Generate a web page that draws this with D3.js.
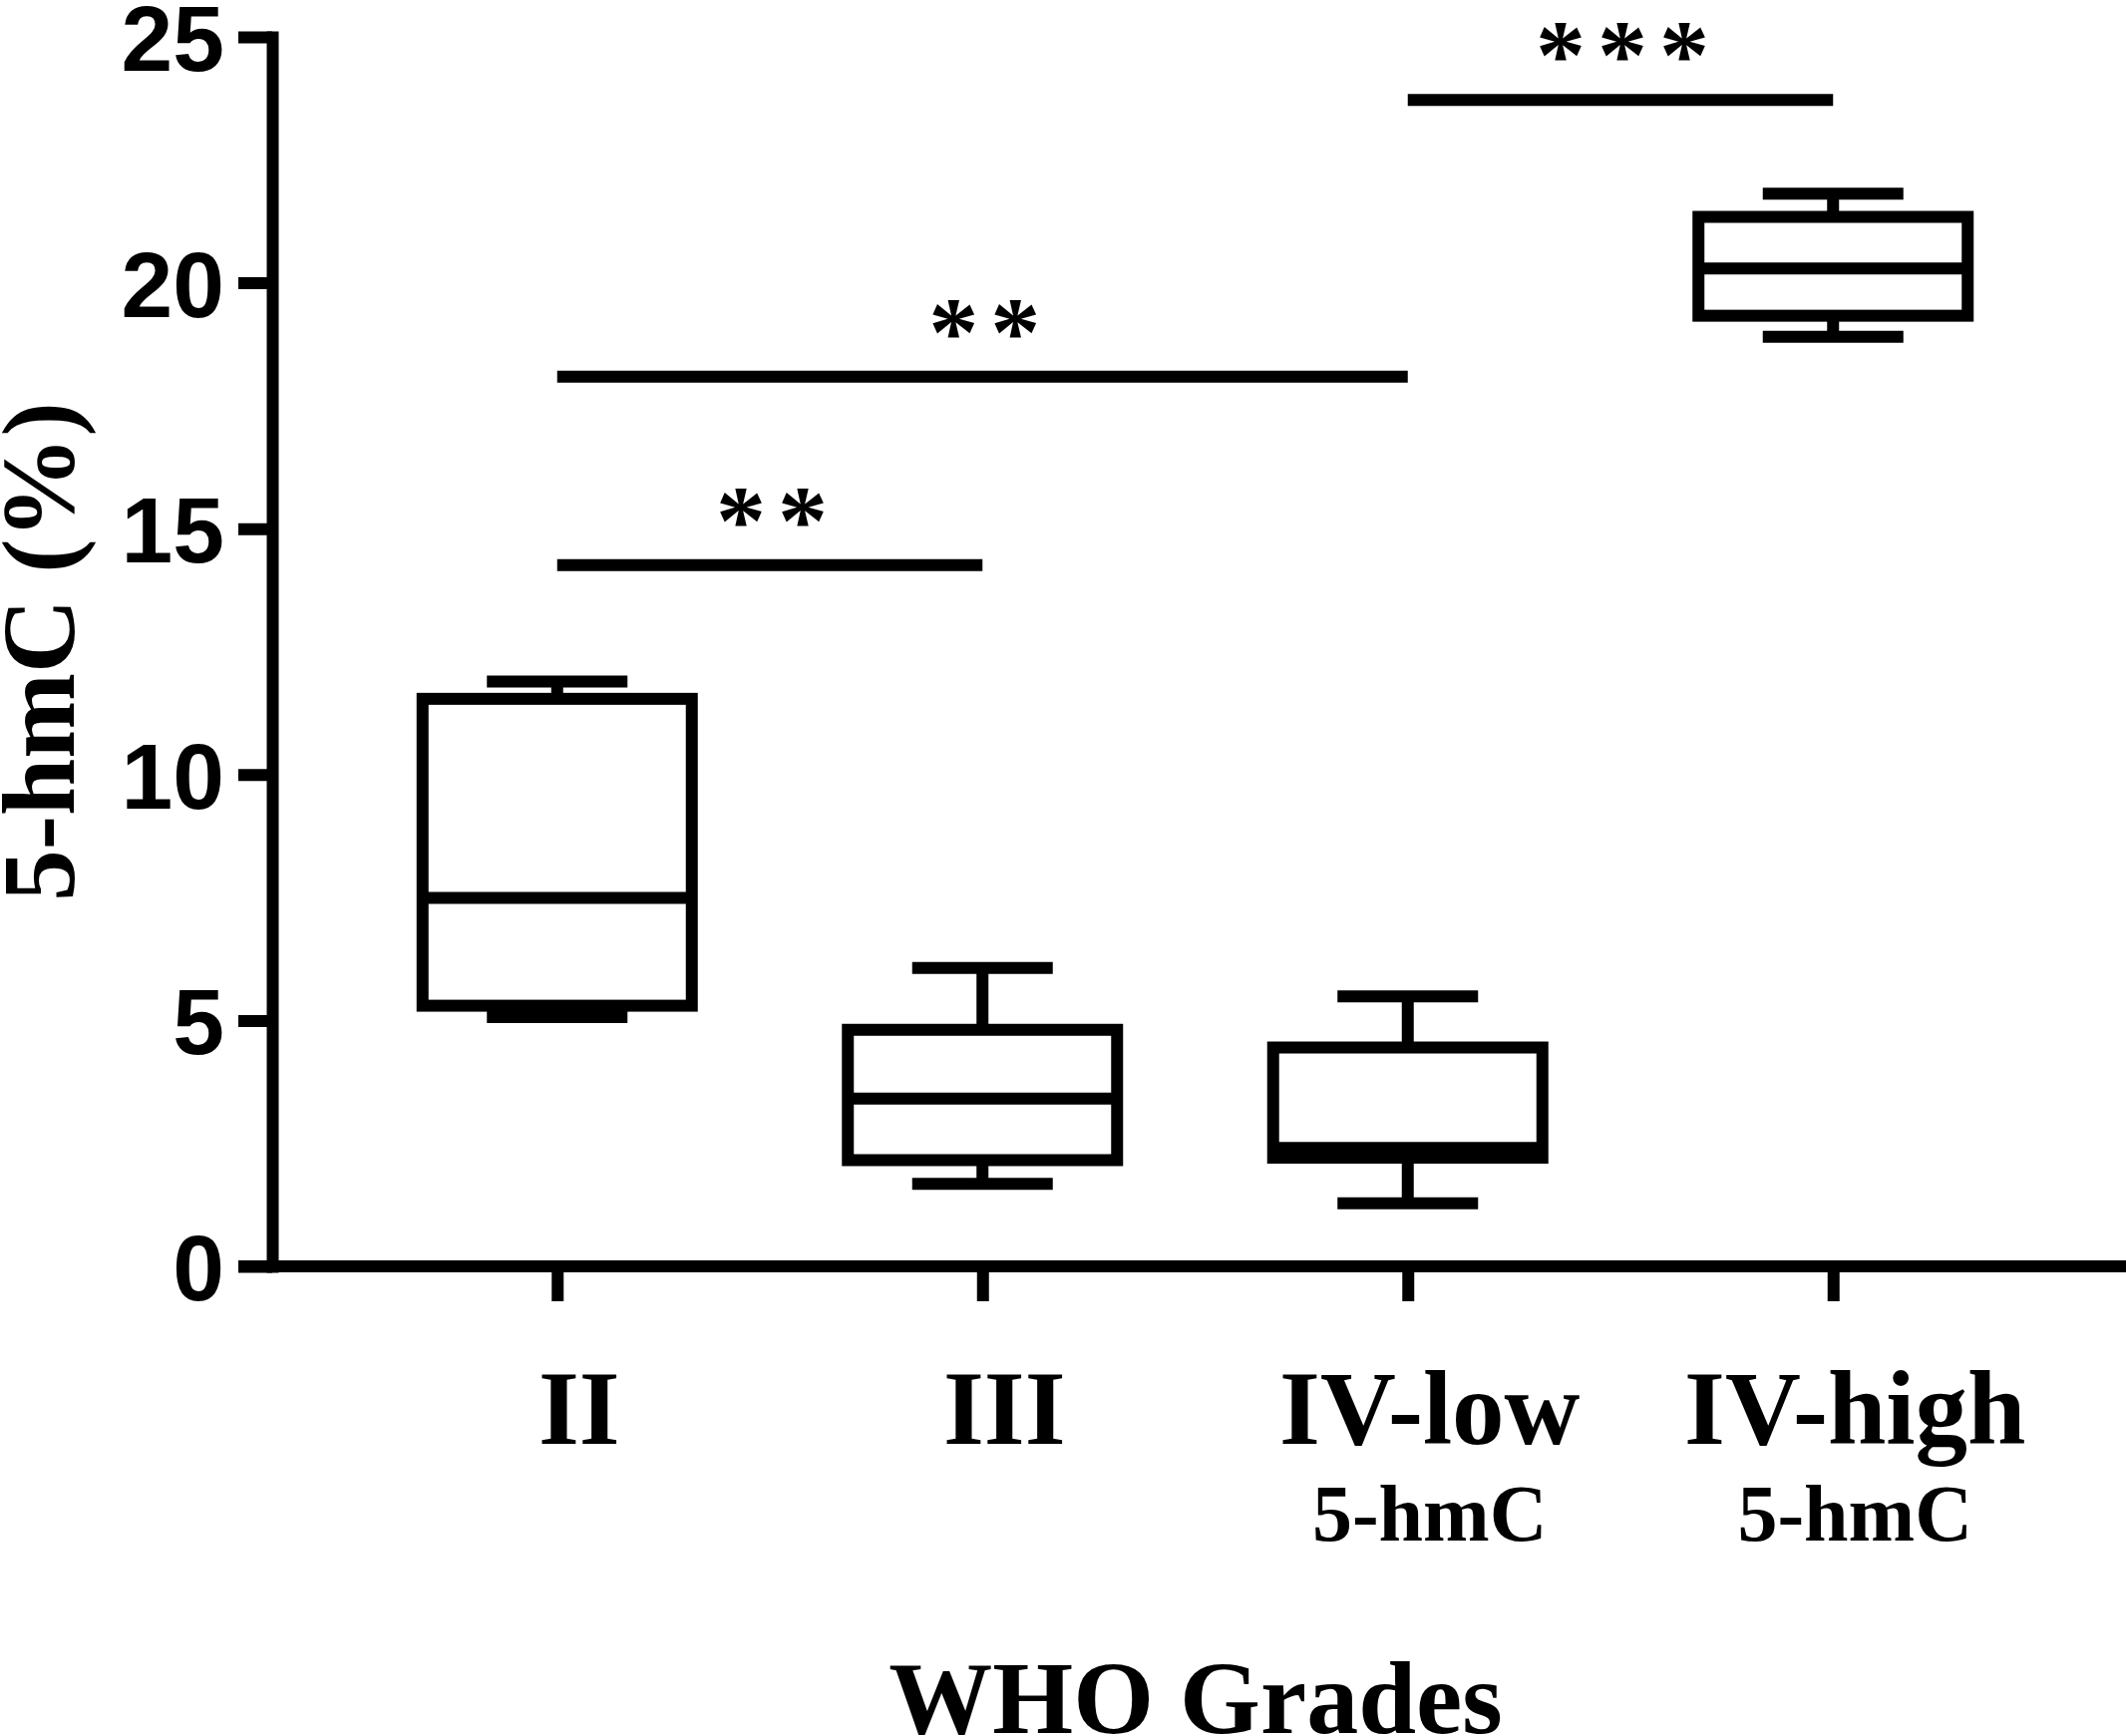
<!DOCTYPE html>
<html>
<head>
<meta charset="utf-8">
<script src="https://cdn.jsdelivr.net/npm/d3@7"></script>
<style>
  html, body { margin: 0; padding: 0; background: #fff; }
  svg { display: block; }
</style>
</head>
<body>
<script>
// ---- data ----
const categories = ["II", "III", "IV-low", "IV-high"];
const subLabels = ["", "", "5-hmC", "5-hmC"];
const whiskerLow = [5.07, 1.68, 1.28, 18.90];
const q1 = [5.30, 2.16, 2.21, 19.33];
const median = [7.49, 3.41, 2.41, 20.29];
const q3 = [11.54, 4.81, 4.45, 21.34];
const whiskerHigh = [11.89, 6.07, 5.49, 21.81];
const yTicks = [0, 5, 10, 15, 20, 25];
const sigFrom = ["II", "II", "IV-low"];
const sigTo = ["III", "IV-low", "IV-high"];
const sigY = [14.26, 18.09, 23.72];
const sigLabel = ["**", "**", "***"];
const yTitle = "5-hmC (%)";
const xTitle = "WHO Grades";

// ---- layout ----
const W = 2132, H = 1741;
const SW = 12;
const serif = "'Liberation Serif', 'Times New Roman', serif";
const sans = "'Liberation Sans', Arial, sans-serif";

const svg = d3.select("body").append("svg")
  .attr("width", W).attr("height", H)
  .attr("viewBox", `0 0 ${W} ${H}`);
svg.append("rect").attr("width", W).attr("height", H).attr("fill", "#fff");

const y = d3.scaleLinear().domain([0, 25]).range([1270, 37]);
const x = d3.scalePoint().domain(categories).range([273, 2124]).padding(0.67);
const axisX = 273;

const boxes = categories.map((c, i) => ({
  c, sub: subLabels[i], lo: whiskerLow[i], q1: q1[i], med: median[i], q3: q3[i], hi: whiskerHigh[i]
}));

// ---- y axis ----
const yAxis = svg.append("g")
  .attr("transform", `translate(${axisX},0)`)
  .call(d3.axisLeft(y).tickValues(yTicks).tickSize(34).tickSizeOuter(0).tickPadding(14).tickFormat(d3.format("d")));
yAxis.select(".domain").attr("stroke", "#000").attr("stroke-width", SW).attr("stroke-linecap", "square");
yAxis.selectAll(".tick line").attr("stroke", "#000").attr("stroke-width", SW);
yAxis.selectAll(".tick text")
  .attr("font-family", sans).attr("font-weight", "bold").attr("font-size", 93)
  .attr("fill", "#000").attr("dy", "0.36em");

// ---- x axis ----
const xAxis = svg.append("g")
  .attr("transform", `translate(0,${y(0)})`)
  .call(d3.axisBottom(x).tickSize(35).tickSizeOuter(0).tickFormat(""));
xAxis.select(".domain").remove();
xAxis.selectAll(".tick line").attr("stroke", "#000").attr("stroke-width", SW);
xAxis.insert("line", ":first-child")
  .attr("x1", 239).attr("x2", W).attr("y1", 0).attr("y2", 0)
  .attr("stroke", "#000").attr("stroke-width", SW);

// category labels
const labelShift = 22;
svg.append("g").selectAll("text.cat").data(boxes).join("text")
  .attr("class", "cat")
  .attr("x", d => x(d.c) + labelShift).attr("y", 1448)
  .attr("text-anchor", "middle")
  .attr("font-family", serif).attr("font-weight", "bold").attr("font-size", 105)
  .text(d => d.c);
svg.append("g").selectAll("text.sub").data(boxes.filter(d => d.sub)).join("text")
  .attr("class", "sub")
  .attr("x", d => x(d.c) + labelShift).attr("y", 1545)
  .attr("text-anchor", "middle")
  .attr("font-family", serif).attr("font-weight", "bold").attr("font-size", 80)
  .text(d => d.sub);

// axis titles
svg.append("text")
  .attr("transform", `translate(74,${(y(0) + y(25)) / 2}) rotate(-90)`)
  .attr("text-anchor", "middle")
  .attr("font-family", serif).attr("font-weight", "bold").attr("font-size", 103)
  .text(yTitle);
svg.append("text")
  .attr("x", 1199).attr("y", 1738)
  .attr("text-anchor", "middle")
  .attr("font-family", serif).attr("font-weight", "bold").attr("font-size", 104)
  .text(xTitle);

// ---- boxes ----
const halfBox = 135, halfCap = 70.5;
const g = svg.append("g").attr("stroke", "#000").attr("stroke-width", SW).attr("fill", "none");
const bg = g.selectAll("g.box").data(boxes).join("g").attr("class", "box");
// whisker stems
bg.append("line").attr("x1", d => x(d.c)).attr("x2", d => x(d.c))
  .attr("y1", d => y(d.q3)).attr("y2", d => y(d.hi));
bg.append("line").attr("x1", d => x(d.c)).attr("x2", d => x(d.c))
  .attr("y1", d => y(d.q1)).attr("y2", d => y(d.lo));
// caps
bg.append("line").attr("x1", d => x(d.c) - halfCap).attr("x2", d => x(d.c) + halfCap)
  .attr("y1", d => y(d.hi)).attr("y2", d => y(d.hi));
bg.append("line").attr("x1", d => x(d.c) - halfCap).attr("x2", d => x(d.c) + halfCap)
  .attr("y1", d => y(d.lo)).attr("y2", d => y(d.lo));
// box
bg.append("rect")
  .attr("x", d => x(d.c) - halfBox).attr("width", 2 * halfBox)
  .attr("y", d => y(d.q3)).attr("height", d => y(d.q1) - y(d.q3))
  .attr("fill", "#fff");
// median
bg.append("line").attr("x1", d => x(d.c) - halfBox).attr("x2", d => x(d.c) + halfBox)
  .attr("y1", d => y(d.med)).attr("y2", d => y(d.med));

// ---- significance bars ----
const sig = sigFrom.map((f, i) => ({ f, t: sigTo[i], v: sigY[i], lab: sigLabel[i] }));
svg.append("g").selectAll("line").data(sig).join("line")
  .attr("x1", d => x(d.f)).attr("x2", d => x(d.t))
  .attr("y1", d => y(d.v)).attr("y2", d => y(d.v))
  .attr("stroke", "#000").attr("stroke-width", SW);
svg.append("g").selectAll("text").data(sig).join("text")
  .attr("x", d => (x(d.f) + x(d.t)) / 2 + 8)
  .attr("y", d => y(d.v) - 12)
  .attr("text-anchor", "middle")
  .attr("font-family", serif).attr("font-weight", "bold").attr("font-size", 100)
  .attr("letter-spacing", 12)
  .text(d => d.lab);
</script>
</body>
</html>
